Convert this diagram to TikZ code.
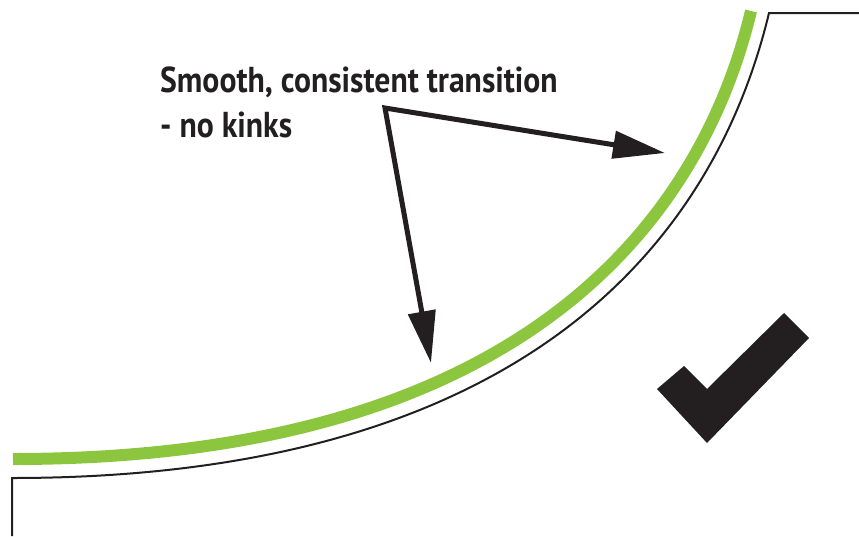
\documentclass[tikz,border=0pt]{standalone}
\usepackage{fontspec}
\setmainfont{PT Sans}[FakeStretch=0.88]
\usetikzlibrary{arrows.meta}
\definecolor{railgreen}{HTML}{8CC63F}
\definecolor{inkblack}{HTML}{231F20}

\begin{document}
\begin{tikzpicture}[x=1pt,y=-1pt]
	\tikzstyle{every node}+=[inner sep=0pt]
	\tikzstyle{pointer}=[line width=5pt, draw=inkblack, line join=miter,
		{Triangle[length=52pt,width=27pt,fill=inkblack]}-{Triangle[length=52pt,width=27pt,fill=inkblack]}]
	\tikzstyle{label}=[anchor=base west, text=inkblack, font=\fontsize{36}{45}\selectfont\bfseries]
	\useasboundingbox (0,0) rectangle (859,536);
	% green transition curve
	\draw [railgreen, line width=12pt] (13,459) .. controls (533,459) and (703,211) .. (751,11);
	% black edge line
	\draw [inkblack, line width=2pt, line join=miter] (12,536) -- (12,478)
		.. controls (547,478) and (719,221) .. (769,13) -- (859,13);
	% text
	\node [label] (line1) at (160,92) {Smooth, consistent transition};
	\node [label] (line2) at (160,137) {- no kinks};
	% pointers
	\coordinate (bend) at (385,108);
	\coordinate (tipupper) at (665,153);
	\coordinate (tiplower) at (431,363);
	\draw [pointer] (tipupper) -- (bend) -- (tiplower);
	% tick
	\fill [inkblack] (657,389) -- (684,366) -- (707,389) -- (784,313)
		-- (809,338) -- (707,443) -- cycle;
\end{tikzpicture}
\end{document}
